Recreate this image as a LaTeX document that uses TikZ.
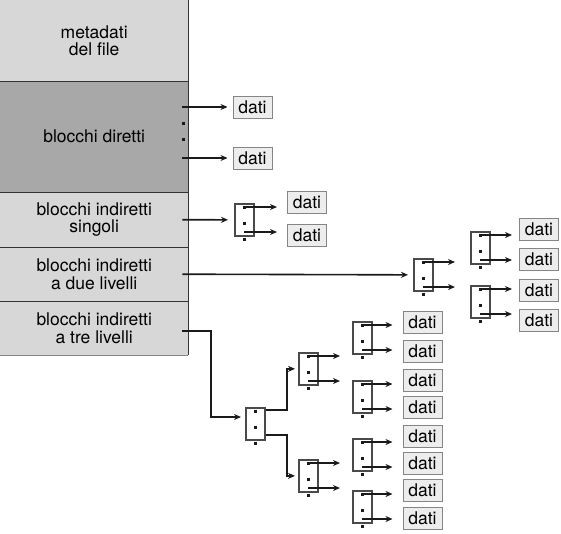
\documentclass[tikz,border=0pt]{standalone}
\usepackage{fontspec}
\setmainfont{TeX Gyre Heros}
\usetikzlibrary{arrows.meta,calc}
\definecolor{light}{HTML}{D7D7D7}
\definecolor{dark}{HTML}{A8A8A8}
\definecolor{ink}{HTML}{1A1A1A}
\definecolor{tline}{HTML}{333333}
\definecolor{boxline}{HTML}{4A4A4A}
\definecolor{datline}{HTML}{858585}
\definecolor{datfill}{HTML}{EDEDED}
\newcommand\ptrdots[1]{%
  \foreach \dy in {4.5,20.5,36}{\fill[ink] ($(#1.north)+(-1.5,\dy-1.5)$) rectangle ++(3,3);}}
\newcommand\twoptr[4]{%
  \coordinate (#1-p1) at ($(#1.north)+(0,4)$);
  \coordinate (#1-p2) at ($(#1.north)+(0,29)$);
  \draw[ptr,shorten >=#4] (#1-p1) -- (#1-p1 -| #2.west);
  \draw[ptr,shorten >=#4] (#1-p2) -- (#1-p2 -| #3.west);}
\begin{document}
\begin{tikzpicture}[x=1pt,y=-1pt,
  rowbox/.style={inner sep=0pt, minimum width=188pt, anchor=north west, align=center, font=\fontsize{17.5}{17.5}\selectfont},
  tbl/.style={draw=tline, line width=1.4pt},
  ptr/.style={draw=ink, line width=1.6pt, -{Stealth[length=7pt,width=6pt]}},
  idx/.style={draw=boxline, line width=1.7pt, fill=white, minimum width=19pt, minimum height=32pt, inner sep=0pt, anchor=north west},
  datbox/.style={draw=datline, line width=1pt, fill=datfill, minimum width=39pt, minimum height=22pt, inner sep=0pt, font=\fontsize{17.5}{17.5}\selectfont},
]
\useasboundingbox[fill=white] (0,0) rectangle (561,533);
% table
\node[rowbox, fill=light, minimum height=81pt] (r1) at (0,0) {metadati\\del file};
\node[rowbox, fill=dark, minimum height=111pt] (r2) at (0,81) {blocchi diretti};
\node[rowbox, fill=light, minimum height=55pt] (r3) at (0,192) {blocchi indiretti\\singoli};
\node[rowbox, fill=light, minimum height=54pt] (r4) at (0,247) {blocchi indiretti\\a due livelli};
\node[rowbox, fill=light, minimum height=54pt] (r5) at (0,301) {blocchi indiretti\\a tre livelli};
\foreach \r in {r1,r2,r3,r4}{\draw[tbl] (\r.south west) -- (\r.south east);}
\draw[tbl, draw=datline] (r5.south west) -- (r5.south east);
\draw[tbl] (r1.north east) -- (r5.south east);

% data boxes
\node[datbox] (dD1) at (252.5,107) {dati};
\node[datbox] (dD2) at (252.5,158) {dati};
\node[datbox] (dS1) at (307,202) {dati};
\node[datbox] (dS2) at (307,235.5) {dati};
\node[datbox] (dA1) at (539,229) {dati};
\node[datbox] (dA2) at (539,259) {dati};
\node[datbox] (dA3) at (539,290) {dati};
\node[datbox] (dA4) at (539,320) {dati};
\foreach \i/\y in {1/322.5,2/351,3/380,4/407,5/436.5,6/463.5,7/490.5,8/518.5}{
  \node[datbox] (d\i) at (422.5,\y) {dati};}

% index blocks
\node[idx] (S) at (234,203) {};
\node[idx] (D1) at (413,258) {};
\node[idx] (D2a) at (470,231) {};
\node[idx] (D2b) at (470,285) {};
\node[idx] (R) at (245,407) {};
\node[idx] (L2a) at (298,352) {};
\node[idx] (L2b) at (298,459) {};
\node[idx] (L3a) at (352,321) {};
\node[idx] (L3b) at (352,380) {};
\node[idx] (L3c) at (352,438) {};
\node[idx] (L3d) at (352,490) {};
\foreach \b in {S,D1,D2a,D2b,R,L2a,L2b,L3a,L3b,L3c,L3d}{\ptrdots{\b}}

% direct blocks
\coordinate (p2) at ($(r2.east)+(-6,0)$);
\fill[ink] ($(p2)+(-0.5,-15)$) rectangle ++(3,3);
\fill[ink] ($(p2)+(-0.5,1)$) rectangle ++(3,3);
\draw[ptr,shorten >=5pt] (p2 |- dD1.west) -- (dD1.west);
\draw[ptr,shorten >=5pt] (p2 |- dD2.west) -- (dD2.west);

% single indirect
\draw[ptr,shorten >=6pt] ($(r3.east)+(-6,0)$) -- (S.west);
\twoptr{S}{dS1}{dS2}{10pt}

% double indirect
\draw[ptr,shorten >=5pt] ($(r4.east)+(-6,0)$) -- (D1.west);
\twoptr{D1}{D2a}{D2b}{15pt}
\twoptr{D2a}{dA1}{dA2}{7pt}
\twoptr{D2b}{dA3}{dA4}{7pt}

% triple indirect
\coordinate (rin) at ($(R.north west)+(0,10)$);
\draw[ptr,shorten >=4pt] ($(r5.east)+(-6,3)$) -| ($(rin)+(-34,0)$) -- (rin);
\coordinate (ra) at ($(R.north east)+(0,3)$);
\coordinate (rb) at ($(R.north east)+(0,28)$);
\draw[ptr,shorten >=3pt] (ra) -| ($(L2a.west)+(-11,0)$) -- (L2a.west);
\draw[ptr,shorten >=3pt] (rb) -| ($(L2b.west)+(-11,0)$) -- (L2b.west);
\twoptr{L2a}{L3a}{L3b}{12pt}
\twoptr{L2b}{L3c}{L3d}{12pt}
\twoptr{L3a}{d1}{d2}{10pt}
\twoptr{L3b}{d3}{d4}{10pt}
\twoptr{L3c}{d5}{d6}{10pt}
\twoptr{L3d}{d7}{d8}{10pt}
\end{tikzpicture}
\end{document}
